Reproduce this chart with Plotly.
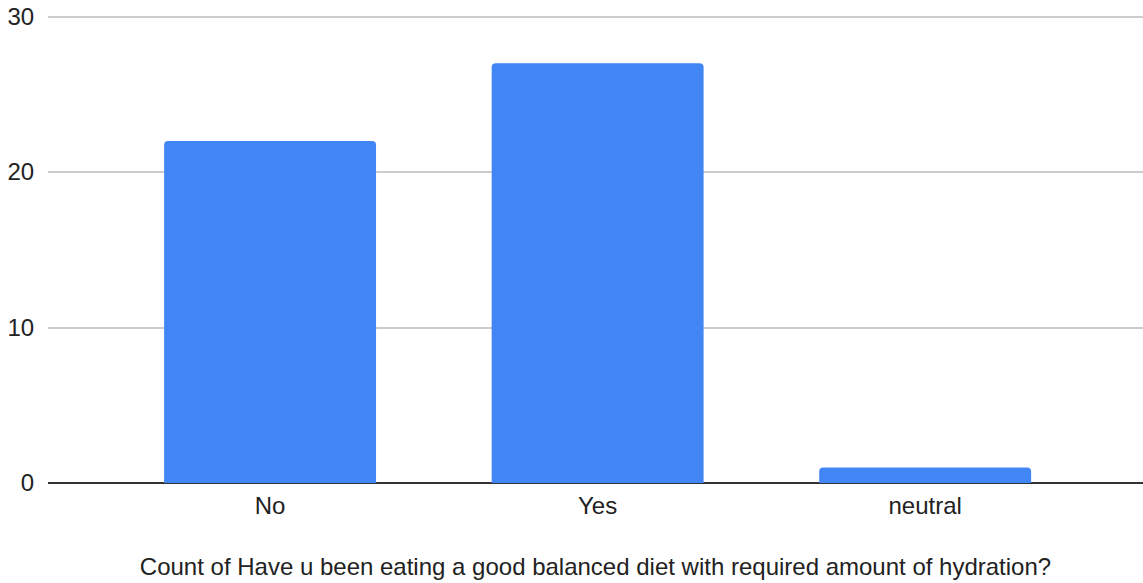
import plotly.graph_objects as go

categories = ["No", "Yes", "neutral"]
counts = [22, 27, 1]
y_ticks = [0, 10, 20, 30]
x_title = "Count of Have u been eating a good balanced diet with required amount of hydration?"

fig = go.Figure(go.Bar(
    x=categories, y=counts,
    marker=dict(color="#4285F4", line=dict(width=0), cornerradius=4),
    width=0.647,
))

font = dict(family="Liberation Sans, Arial, sans-serif", size=24, color="#222222")

fig.update_layout(
    width=1143, height=583,
    margin=dict(l=48, r=0, t=15, b=100),
    plot_bgcolor="white", paper_bgcolor="white",
    font=font,
    showlegend=False,
)
fig.update_xaxes(
    type="category",
    range=[-0.678, 2.665],
    showgrid=False,
    showline=False,
    ticks="",
    ticklabelstandoff=6,
    title=dict(text=x_title, font=font, standoff=40),
    tickfont=font,
)
fig.update_yaxes(
    range=[0, 30.1],
    tickvals=y_ticks,
    showgrid=True, gridcolor="#cccccc", gridwidth=1.5,
    zeroline=True, zerolinecolor="#333333", zerolinewidth=2,
    showline=False,
    automargin=False,
    ticks="outside", ticklen=8, tickcolor="rgba(0,0,0,0)",
    ticklabeloverflow="allow",
    tickfont=font,
)

fig.write_html("out.html", config={"displayModeBar": False},
               post_script="document.body.style.margin='0';")
